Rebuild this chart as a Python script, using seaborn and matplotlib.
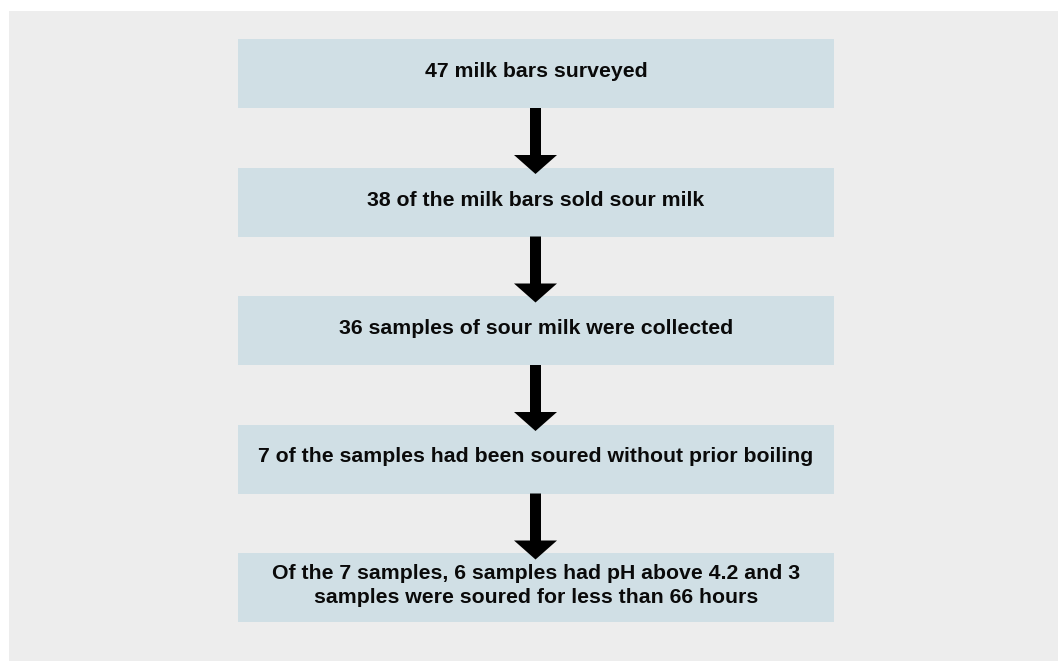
import matplotlib
matplotlib.use("Agg")
import matplotlib.pyplot as plt
import matplotlib.patches as mpatches
import seaborn as sns

# flowchart steps, top to bottom
steps = [
    "47 milk bars surveyed",
    "38 of the milk bars sold sour milk",
    "36 samples of sour milk were collected",
    "7 of the samples had been soured without prior boiling",
    "Of the 7 samples, 6 samples had pH above 4.2 and 3\nsamples were soured for less than 66 hours",
]

sns.set_theme(style="white")
plt.rcParams["font.family"] = ["Liberation Sans", "DejaVu Sans"]

bg_color = "#ededed"
box_color = "#d0dfe5"

fig = plt.figure(figsize=(10.58, 6.61), dpi=100)
ax = fig.add_axes([0, 0, 1, 1])
ax.set_xlim(0, 1058)
ax.set_ylim(661, 0)
ax.axis("off")

ax.add_patch(mpatches.Rectangle((9, 11), 1049, 650, facecolor=bg_color, edgecolor="none"))

box_x, box_w, box_h = 238, 596, 69
top0, pitch = 39, 128.5
cx = box_x + box_w / 2

for i, label in enumerate(steps):
    top = top0 + i * pitch
    ax.add_patch(mpatches.Rectangle((box_x, top), box_w, box_h,
                                    facecolor=box_color, edgecolor="none", zorder=2))
    ax.text(cx, top + box_h / 2 - 2, label, ha="center", va="center",
            fontsize=15.3, fontweight="bold", color="#0a0a0a",
            linespacing=1.35, zorder=4)
    if i < len(steps) - 1:
        start = top + box_h
        ax.arrow(535.5, start, 0, 66, width=11, head_width=43, head_length=19,
                 length_includes_head=True, facecolor="black", edgecolor="none",
                 zorder=3)

fig.savefig("out.png", dpi=100)
